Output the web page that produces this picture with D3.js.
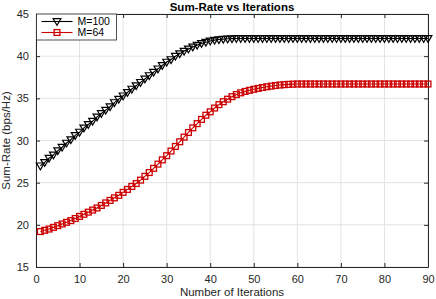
<!DOCTYPE html>
<html>
<head>
<meta charset="utf-8">
<script src="https://cdn.jsdelivr.net/npm/d3@7/dist/d3.min.js"></script>
<style>
  html, body { margin: 0; padding: 0; background: #fff; }
  svg { display: block; font-family: "Liberation Sans", Arial, sans-serif; }
</style>
</head>
<body>
<svg id="chart" width="436" height="299"></svg>
<script>
// DATA

const iterations = d3.range(1, 91);

const rateM100 = [
  27.0, 27.4, 27.9, 28.3, 28.8, 29.2, 29.7, 30.1, 30.6, 31.0,
  31.5, 31.9, 32.3, 32.8, 33.2, 33.6, 34.0, 34.5, 34.9, 35.3,
  35.7, 36.1, 36.5, 36.9, 37.3, 37.7, 38.1, 38.5, 38.9, 39.3,
  39.6, 40.0, 40.3, 40.6, 40.85, 41.1, 41.3, 41.5, 41.65, 41.8,
  41.9, 41.97, 42.02, 42.06, 42.08, 42.1, 42.1, 42.1, 42.1, 42.1,
  42.1, 42.1, 42.1, 42.1, 42.1, 42.1, 42.1, 42.1, 42.1, 42.1,
  42.1, 42.1, 42.1, 42.1, 42.1, 42.1, 42.1, 42.1, 42.1, 42.1,
  42.1, 42.1, 42.1, 42.1, 42.1, 42.1, 42.1, 42.1, 42.1, 42.1,
  42.1, 42.1, 42.1, 42.1, 42.1, 42.1, 42.1, 42.1, 42.1, 42.1
];

const rateM64 = [
  19.2, 19.35, 19.5, 19.7, 19.9, 20.1, 20.3, 20.5, 20.75, 21.0,
  21.25, 21.5, 21.75, 22.0, 22.3, 22.6, 22.9, 23.2, 23.5, 23.85,
  24.2, 24.55, 24.9, 25.3, 25.75, 26.2, 26.7, 27.2, 27.7, 28.2,
  28.75, 29.3, 29.85, 30.4, 30.95, 31.5, 32.0, 32.5, 33.0, 33.4,
  33.85, 34.25, 34.6, 34.9, 35.2, 35.45, 35.65, 35.82, 35.95, 36.07,
  36.18, 36.28, 36.37, 36.45, 36.52, 36.58, 36.62, 36.66, 36.68, 36.7,
  36.7, 36.7, 36.7, 36.7, 36.7, 36.7, 36.7, 36.7, 36.7, 36.7,
  36.7, 36.7, 36.7, 36.7, 36.7, 36.7, 36.7, 36.7, 36.7, 36.7,
  36.7, 36.7, 36.7, 36.7, 36.7, 36.7, 36.7, 36.7, 36.7, 36.7
];

const xTicks = [0, 10, 20, 30, 40, 50, 60, 70, 80, 90];
const yTicks = [15, 20, 25, 30, 35, 40, 45];
const seriesNames = ["M=100", "M=64"];

// LAYOUT

const svg = d3.select("#chart");
const plot = { left: 36, right: 428, top: 14, bottom: 267 };
const axisColor = "#262626";
const gridColor = "#e3e3e3";

const x = d3.scaleLinear().domain([0, 90]).range([plot.left, plot.right]);
const y = d3.scaleLinear().domain([15, 45]).range([plot.bottom, plot.top]);

// ── Grid ──
svg.append("g")
  .selectAll("line")
  .data(xTicks)
  .join("line")
  .attr("x1", (d) => x(d)).attr("x2", (d) => x(d))
  .attr("y1", plot.top).attr("y2", plot.bottom)
  .attr("stroke", gridColor).attr("stroke-width", 1);

svg.append("g")
  .selectAll("line")
  .data(yTicks)
  .join("line")
  .attr("x1", plot.left).attr("x2", plot.right)
  .attr("y1", (d) => y(d)).attr("y2", (d) => y(d))
  .attr("stroke", gridColor).attr("stroke-width", 1);

// ── Axes (box with inward ticks on every side) ──
const tickLen = 4;
const axisBottom = d3.axisBottom(x).tickValues(xTicks).tickSizeInner(-tickLen).tickSizeOuter(0).tickPadding(8);
const axisTop = d3.axisTop(x).tickValues(xTicks).tickSizeInner(-tickLen).tickSizeOuter(0).tickFormat("");
const axisLeft = d3.axisLeft(y).tickValues(yTicks).tickSizeInner(-tickLen).tickSizeOuter(0).tickPadding(7);
const axisRight = d3.axisRight(y).tickValues(yTicks).tickSizeInner(-tickLen).tickSizeOuter(0).tickFormat("");

function styleAxis(g) {
  g.select(".domain").attr("stroke", axisColor).attr("stroke-width", 1);
  g.selectAll(".tick line").attr("stroke", axisColor);
  g.selectAll(".tick text")
    .attr("fill", axisColor)
    .attr("font-size", "11px")
    .attr("font-family", "Liberation Sans, Arial, sans-serif");
}

svg.append("g").attr("transform", `translate(0,${plot.bottom})`).call(axisBottom).call(styleAxis);
svg.append("g").attr("transform", `translate(0,${plot.top})`).call(axisTop).call(styleAxis);
svg.append("g").attr("transform", `translate(${plot.left},0)`).call(axisLeft).call(styleAxis);
svg.append("g").attr("transform", `translate(${plot.right},0)`).call(axisRight).call(styleAxis);

// ── Series ──
const series = [
  { name: seriesNames[0], values: rateM100, color: "#000000", marker: "triangle" },
  { name: seriesNames[1], values: rateM64, color: "#cc0000", marker: "square" },
];

const line = d3.line()
  .x((d, i) => x(iterations[i]))
  .y((d) => y(d));

// downward triangle centred at the origin
const triPath = "M-3.9,-2.8L3.9,-2.8L0,3.9Z";

function drawMarker(g, kind, color) {
  if (kind === "triangle") {
    g.append("path").attr("d", triPath)
      .attr("fill", "none").attr("stroke", color).attr("stroke-width", 1.2);
  } else {
    g.append("rect").attr("x", -2.9).attr("y", -2.9).attr("width", 5.8).attr("height", 5.8)
      .attr("fill", "none").attr("stroke", color).attr("stroke-width", 1.3);
  }
}

series.forEach((s) => {
  svg.append("path")
    .datum(s.values)
    .attr("d", line)
    .attr("fill", "none")
    .attr("stroke", s.color)
    .attr("stroke-width", 1.1);

  const marks = svg.append("g")
    .selectAll("g")
    .data(s.values)
    .join("g")
    .attr("transform", (d, i) => `translate(${x(iterations[i])},${y(d)})`);
  marks.each(function () { drawMarker(d3.select(this), s.marker, s.color); });
});

// ── Legend ──
const legend = svg.append("g").attr("transform", `translate(${plot.left + 0.5},${plot.top})`);
legend.append("rect")
  .attr("width", 80).attr("height", 26)
  .attr("fill", "#fff").attr("stroke", axisColor).attr("stroke-width", 0.8);

series.forEach((s, i) => {
  const row = legend.append("g").attr("transform", `translate(0,${7.5 + i * 11})`);
  row.append("line").attr("x1", 5).attr("x2", 36).attr("stroke", s.color).attr("stroke-width", 1.1);
  drawMarker(row.append("g").attr("transform", "translate(20.5,0)"), s.marker, s.color);
  row.append("text")
    .attr("x", 41).attr("y", 3.7)
    .attr("font-size", "10.5px").attr("fill", "#000")
    .text(s.name);
});

// ── Labels ──
svg.append("text")
  .attr("x", (plot.left + plot.right) / 2).attr("y", 10.5)
  .attr("text-anchor", "middle")
  .attr("font-size", "11.5px").attr("font-weight", "bold").attr("fill", "#000")
  .text("Sum-Rate vs Iterations");

svg.append("text")
  .attr("x", (plot.left + plot.right) / 2).attr("y", 296)
  .attr("text-anchor", "middle")
  .attr("font-size", "11.5px").attr("fill", axisColor)
  .text("Number of Iterations");

svg.append("text")
  .attr("transform", `translate(9.5,${(plot.top + plot.bottom) / 2}) rotate(-90)`)
  .attr("text-anchor", "middle")
  .attr("font-size", "11.5px").attr("fill", axisColor)
  .text("Sum-Rate (bps/Hz)");
</script>
</body>
</html>
